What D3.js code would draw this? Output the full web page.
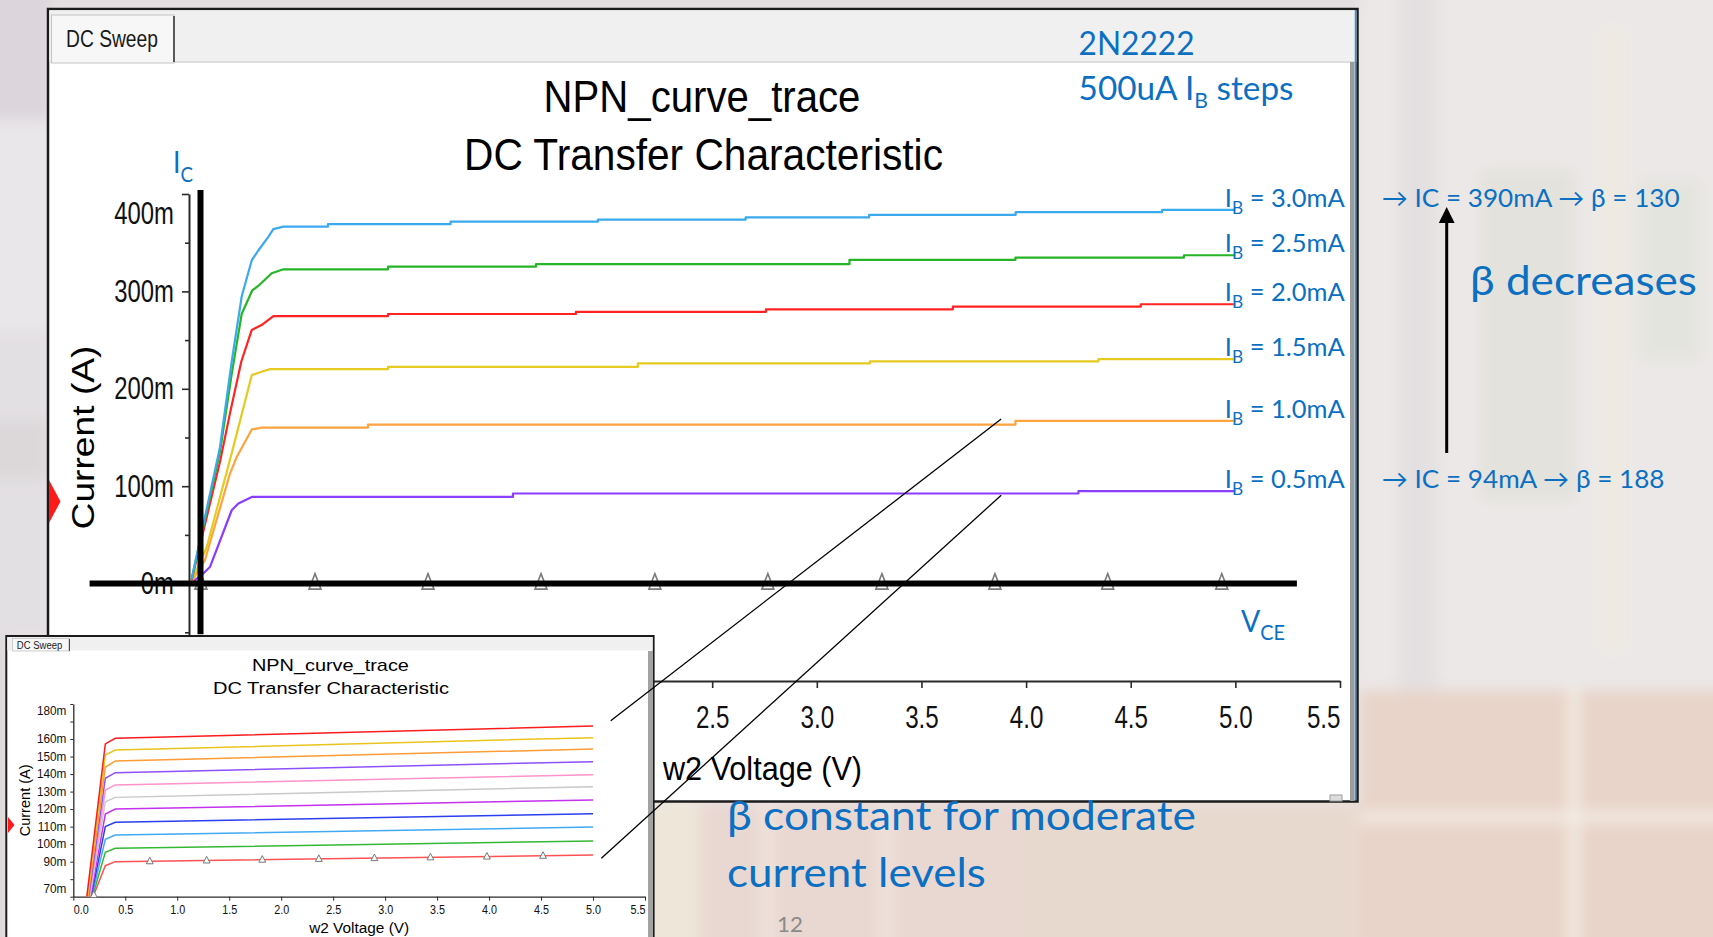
<!DOCTYPE html>
<html>
<head>
<meta charset="utf-8">
<title>NPN curve trace – 2N2222</title>
<script src="https://cdn.jsdelivr.net/npm/d3@7/dist/d3.min.js"></script>
<style>
  html, body { margin: 0; padding: 0; overflow: hidden; background: #e9e4e4; }
  svg { display: block; }
  text { white-space: pre; }
</style>
</head>
<body>
<svg id="slide" width="1713" height="937"></svg>
<script>
// ---------- values ----------
// sweep voltage ticks (V) and collector-current ticks (mA)
const sweepTicks   = [0.0, 0.5, 1.0, 1.5, 2.0, 2.5, 3.0, 3.5, 4.0, 4.5, 5.0, 5.5];
const currentTicks = [-100, 0, 100, 200, 300, 400];
const currentMinor = [-50, 50, 150, 250, 350];

// base-current steps (mA), top trace first
const baseCurrents = ["3.0", "2.5", "2.0", "1.5", "1.0", "0.5"];
const traceColors  = ["#3aa9ee", "#26b526", "#ff2323", "#e5ca1f", "#ffa33f", "#8a3cff"];

// saturation rise of each trace: [VCE (V), IC (mA)]
const rise30 = [[0.013, 5], [0.148, 140], [0.204, 228], [0.252, 295], [0.300, 332], [0.331, 342], [0.379, 356], [0.403, 364], [0.451, 366.5]];
const rise25 = [[0.013, 5], [0.148, 135], [0.204, 215], [0.252, 277], [0.302, 301], [0.331, 305.6], [0.395, 318.6], [0.451, 322.7]];
const rise20 = [[0.013, 4], [0.148, 125], [0.196, 175], [0.250, 228], [0.300, 260.4], [0.347, 265.5], [0.403, 274.7]];
const rise15 = [[0.013, 3], [0.085, 37.6], [0.212, 140.4], [0.300, 214], [0.347, 217.5], [0.387, 220.2]];
const rise10 = [[0.013, 2], [0.076, 24], [0.196, 113], [0.228, 130], [0.300, 158.3], [0.347, 160.1]];
const rise05 = [[0.013, 1], [0.068, 10.3], [0.100, 17], [0.204, 75.3], [0.236, 82.2], [0.300, 89]];

// active region, plotted in steps: [VCE where the level starts (V), IC (mA)]
const flat30 = [[0.451, 366.5], [0.664, 369], [1.250, 371.6], [1.954, 373.7], [2.660, 376], [3.250, 378.5], [3.950, 381.3], [4.650, 383.7], [5.0, 383.7]];
const flat25 = [[0.451, 322.7], [0.951, 325.4], [1.658, 328], [3.156, 332.3], [3.949, 334.6], [4.754, 337.1], [5.0, 337.1]];
const flat20 = [[0.403, 274.7], [0.951, 276.8], [1.849, 279], [2.757, 281.6], [3.650, 284.3], [4.548, 286.8], [5.0, 286.8]];
const flat15 = [[0.387, 220.2], [0.951, 222.6], [2.145, 226.1], [3.254, 228.2], [4.346, 230.5], [5.0, 230.5]];
const flat10 = [[0.347, 160.1], [0.855, 163.2], [3.949, 167.1], [5.0, 167.1]];
const flat05 = [[0.300, 89], [1.548, 92.5], [4.250, 94.9], [5.0, 94.9]];

// IB = 0 trace and its symbol positions (V)
const zeroTrace   = [[0, 0], [5.0, 0]];
const zeroMarkers = [0.057, 0.602, 1.142, 1.682, 2.226, 2.766, 3.311, 3.851, 4.390, 4.935];

// small-signal sweep (inset), bottom trace first
const insetColors = ["#ff5252", "#35b935", "#40aaf2", "#2b3ff0", "#c431ef", "#c9c9c9", "#ff93cb", "#8d50ff", "#ff9c35", "#e8c41e", "#ff1c1c"];
const insetStart  = [0.190, 0.184, 0.178, 0.172, 0.166, 0.160, 0.154, 0.148, 0.142, 0.136, 0.130]; // V at 70 mA
const insetKneeV  = [0.308, 0.404, 5.0];
const insetKneeA  = [87.7, 95.3, 102.8, 110.0, 117.2, 124.2, 130.9, 137.6, 143.9, 150.9, 157.2];
const insetKneeB  = [90.0, 97.6, 105.2, 112.5, 120.0, 126.7, 133.8, 140.8, 147.5, 153.7, 160.4];
const insetEnd    = [93.8, 101.8, 109.8, 117.4, 125.2, 132.8, 139.6, 147.1, 154.3, 160.8, 167.4];
const insetMarkers = [0.197, 0.736, 1.283, 1.818, 2.362, 2.897, 3.436, 3.979, 4.519];
const insetTicks   = [70, 80, 90, 100, 110, 120, 130, 140, 150, 160, 170, 180];
const insetSkipped = [80, 170];

// operating points quoted beside the traces
const icHigh = 390, betaHigh = 130;
const icLow  = 94,  betaLow  = 188;

// guide axes drawn over the plot and the links to the inset: [V, mA]
const guideH = [-0.475, 5.294];   // along IC = 0
const guideV = [0.055, -52, 404]; // at VCE = 0.055 V
const linkTop    = { main: [3.881, 168.9], inset: [5.17, 170.5] };
const linkBottom = { main: [3.881, 90.7],  inset: [5.08, 91.9] };

// ---------- drawing ----------
const CHART = "'Liberation Sans', Arial, Helvetica, sans-serif";
const NOTE  = "Lato, 'Noto Sans', 'DejaVu Sans', sans-serif";
const BLUE  = "#0b6fc2";

const svg = d3.select("#slide");
const defs = svg.append("defs");
defs.append("filter").attr("id", "soft")
  .attr("filterUnits", "userSpaceOnUse")
  .attr("x", -60).attr("y", -60).attr("width", 1833).attr("height", 1057)
  .append("feGaussianBlur").attr("stdDeviation", 7);

// text helper: parts are strings or [string, true] for a subscript; the
// finished text is squeezed horizontally to the requested width
function note(parent, parts, o) {
  const t = parent.append("text")
    .attr("font-family", o.family).attr("font-size", o.size)
    .attr("fill", o.fill || "#000").attr("text-anchor", o.anchor || "start");
  let down = false;
  parts.forEach(p => {
    const [s, sub] = typeof p === "string" ? [p, false] : p;
    const ts = t.append("tspan").text(s);
    if (sub && !down) { ts.attr("font-size", o.subSize).attr("dy", o.subDy); down = true; }
    else if (!sub && down) { ts.attr("dy", -o.subDy); down = false; }
  });
  const w = t.node().getBBox().width;
  const sx = o.width ? o.width / w : (o.sx || 1);
  const rot = o.rotate ? ` rotate(${o.rotate})` : "";
  t.attr("transform", `translate(${o.x},${o.y})${rot} scale(${sx},${o.sy || 1})`);
  return t;
}

// ---- slide backdrop (soft photo texture) ----
const backdrop = svg.append("g").attr("filter", "url(#soft)");
const backdropTiles = [
  [-40, -40, 1800, 1020, "#e9e5e5"],
  [-40, -40, 90, 160, "#dcd5dc"],
  [-40, 120, 90, 210, "#e9e7ea"],
  [-40, 330, 90, 310, "#e3e0e3"],
  [-40, 420, 90, 60, "#dcd8da"],
  [48, -40, 1320, 50, "#e4dde0"],
  [1360, -40, 400, 730, "#ebe8e7"],
  [1398, -40, 40, 730, "#e4e0e1"],
  [1480, 170, 95, 330, "#e3e2dc"],
  [1600, 30, 25, 620, "#eeeae1"],
  [1640, 180, 60, 180, "#e4e4de"],
  [1360, 690, 400, 260, "#e8d4c9"],
  [1360, 812, 400, 10, "#f3ece4"],
  [1569, 690, 10, 260, "#f4ede4"],
  [650, 802, 710, 150, "#eadbd3"],
  [652, 802, 48, 150, "#eee6d8"],
  [700, 802, 320, 150, "#e9d7d2"],
  [760, 802, 14, 150, "#efe3dc"],
  [880, 802, 12, 150, "#efe4dc"],
  [1020, 802, 340, 150, "#e8d9cf"],
  [-40, 636, 46, 320, "#dad7da"]
];
backdrop.selectAll("rect").data(backdropTiles).join("rect")
  .attr("x", d => d[0]).attr("y", d => d[1]).attr("width", d => d[2]).attr("height", d => d[3])
  .attr("fill", d => d[4]);

// ---- main DC sweep window ----
const win = svg.append("g");
win.append("rect").attr("x", 48).attr("y", 9).attr("width", 1309.5).attr("height", 792.5)
  .attr("fill", "#ffffff").attr("stroke", "#1b1b1b").attr("stroke-width", 2.5);
win.append("rect").attr("x", 49.3).attr("y", 10.3).attr("width", 1307).attr("height", 52)
  .attr("fill", "#f0f0f0");
win.append("line").attr("x1", 49).attr("x2", 1356).attr("y1", 62).attr("y2", 62)
  .attr("stroke", "#d6d6d6").attr("stroke-width", 1.5);
win.append("rect").attr("x", 51.5).attr("y", 15).attr("width", 122.5).attr("height", 48)
  .attr("fill", "#f7f7f7").attr("stroke", "#c4c4c4").attr("stroke-width", 1);
win.append("line").attr("x1", 174).attr("x2", 174).attr("y1", 16).attr("y2", 62)
  .attr("stroke", "#4a4a4a").attr("stroke-width", 1.8);
win.append("rect").attr("x", 1350).attr("y", 62).attr("width", 4.5).attr("height", 739)
  .attr("fill", "#9c9c9c");
win.append("line").attr("x1", 1355.5).attr("x2", 1355.5).attr("y1", 10).attr("y2", 800)
  .attr("stroke", "#3b8ee0").attr("stroke-width", 1.5);
win.append("rect").attr("x", 1330).attr("y", 795).attr("width", 12).attr("height", 6)
  .attr("fill", "#dcdcdc").attr("stroke", "#a0a0a0").attr("stroke-width", 1);
win.append("path").attr("d", "M49,480 L60.5,501.5 L49,523 Z").attr("fill", "#ff1a1a");

note(win, ["DC Sweep"], { x: 66, y: 47, size: 24, family: CHART, fill: "#1a1a1a", width: 92 });
note(win, ["NPN_curve_trace"], { x: 702, y: 112, size: 44, family: CHART, anchor: "middle", width: 317 });
note(win, ["DC Transfer Characteristic"], { x: 703.5, y: 170, size: 44, family: CHART, anchor: "middle", width: 479 });

const xMain = d3.scaleLinear().domain([0, 5.5]).range([189, 1340]);
const yMain = d3.scaleLinear().domain([-100, 400]).range([681, 194]);

// y axis
const yAx = win.append("g").attr("transform", `translate(${xMain(0)},0)`)
  .call(d3.axisLeft(yMain).tickValues(currentTicks).tickFormat(d => d + "m")
    .tickSize(7).tickPadding(8).tickSizeOuter(0));
win.append("g").attr("transform", `translate(${xMain(0)},0)`)
  .call(d3.axisLeft(yMain).tickValues(currentMinor).tickFormat("").tickSize(4).tickSizeOuter(0))
  .call(g => g.select(".domain").remove());
yAx.selectAll("text")
  .attr("font-family", CHART).attr("font-size", 31).attr("fill", "#111")
  .attr("x", 0)
  .attr("transform", d => `translate(-15,${d === 400 ? 20 : 0}) scale(0.77,1)`);

// x axis
const xAx = win.append("g").attr("transform", `translate(0,${yMain(-100)})`)
  .call(d3.axisBottom(xMain).tickValues(sweepTicks).tickFormat(d3.format(".1f"))
    .tickSize(7).tickPadding(18).tickSizeOuter(0));
xAx.selectAll("text")
  .attr("font-family", CHART).attr("font-size", 31).attr("fill", "#111")
  .attr("text-anchor", d => d === 5.5 ? "end" : (d === 0 ? "start" : "middle"))
  .attr("transform", "scale(0.78,1)");

win.selectAll(".domain").attr("stroke", "#2a2a2a").attr("stroke-width", 2);
win.selectAll(".tick line").attr("stroke", "#2a2a2a").attr("stroke-width", 1.6);

note(win, ["Current (A)"], { x: 94, y: (yMain.range()[0] + yMain.range()[1]) / 2, size: 31, family: CHART,
  anchor: "middle", rotate: -90, width: 184 });
note(win, ["w2 Voltage (V)"], { x: (xMain.range()[0] + xMain.range()[1]) / 2 - 2, y: 780, size: 33, family: CHART,
  anchor: "middle", width: 200 });

// traces
const lineMain = d3.line().x(d => xMain(d[0])).y(d => yMain(d[1]));
function stairs(flat) {
  const out = [flat[0]];
  for (let i = 1; i < flat.length; i++) { out.push([flat[i][0], flat[i - 1][1]]); out.push(flat[i]); }
  return out;
}
const traces = [[rise30, flat30], [rise25, flat25], [rise20, flat20], [rise15, flat15], [rise10, flat10], [rise05, flat05]];

win.append("path").attr("d", lineMain(zeroTrace)).attr("fill", "none")
  .attr("stroke", "#9a9a9a").attr("stroke-width", 2);

const traceG = win.append("g");
traces.slice().reverse().forEach((tr, k) => {
  const i = traces.length - 1 - k;
  traceG.append("path")
    .attr("d", lineMain(tr[0].concat(stairs(tr[1]))))
    .attr("fill", "none").attr("stroke", traceColors[i]).attr("stroke-width", 2.2)
    .attr("stroke-linejoin", "round");
});

// trace symbols on the IB = 0 trace
win.append("g").selectAll("path").data(zeroMarkers).join("path")
  .attr("transform", d => `translate(${xMain(d)},${yMain(0)})`)
  .attr("d", "M0,-10 L6,5.5 L-6,5.5 Z")
  .attr("fill", "#ffffff").attr("stroke", "#7a7a7a").attr("stroke-width", 1.6);

// heavy guide axes
win.append("line")
  .attr("x1", xMain(guideH[0])).attr("x2", xMain(guideH[1]))
  .attr("y1", yMain(0)).attr("y2", yMain(0))
  .attr("stroke", "#000").attr("stroke-width", 6);
win.append("line")
  .attr("x1", xMain(guideV[0])).attr("x2", xMain(guideV[0]))
  .attr("y1", yMain(guideV[1])).attr("y2", yMain(guideV[2]))
  .attr("stroke", "#000").attr("stroke-width", 6);

// trace labels
const labelG = win.append("g");
const labelY = traces.map(tr => yMain(tr[1][tr[1].length - 1][1]) - 3);
baseCurrents.forEach((ib, i) => {
  note(labelG, ["I", ["B", true], ` = ${ib}mA`], {
    x: xMain(5.0) - 10.5, y: labelY[i], size: 25, subSize: 17, subDy: 6.7,
    family: NOTE, fill: BLUE, width: 120 });
});
note(labelG, ["I", ["C", true]], { x: 173, y: 173.3, size: 30, subSize: 21, subDy: 8.4, family: NOTE, fill: BLUE, width: 20 });
note(labelG, ["V", ["CE", true]], { x: 1241, y: 631.7, size: 30, subSize: 21, subDy: 8.4, family: NOTE, fill: BLUE, width: 44 });

// ---- inset: small-signal sweep window ----
const ins = svg.append("g");
ins.append("rect").attr("x", 6.3).attr("y", 636).attr("width", 647.3).attr("height", 320)
  .attr("fill", "#ffffff").attr("stroke", "#1b1b1b").attr("stroke-width", 2);
ins.append("rect").attr("x", 7.3).attr("y", 637).attr("width", 645.3).attr("height", 13.5)
  .attr("fill", "#f0f0f0");
ins.append("rect").attr("x", 12.6).attr("y", 638.5).attr("width", 56.8).attr("height", 12.5)
  .attr("fill", "#f7f7f7").attr("stroke", "#c4c4c4").attr("stroke-width", 0.8);
ins.append("line").attr("x1", 69.4).attr("x2", 69.4).attr("y1", 639).attr("y2", 651)
  .attr("stroke", "#4a4a4a").attr("stroke-width", 1.2);
ins.append("rect").attr("x", 648).attr("y", 651).attr("width", 4).attr("height", 290).attr("fill", "#a2a2a2");
ins.append("path").attr("d", "M8,817 L14.5,825 L8,833 Z").attr("fill", "#ff1a1a");

note(ins, ["DC Sweep"], { x: 16.8, y: 648.5, size: 11.5, family: CHART, fill: "#1a1a1a", width: 45.5 });
note(ins, ["NPN_curve_trace"], { x: 330.4, y: 670.7, size: 17, family: CHART, anchor: "middle", width: 157 });
note(ins, ["DC Transfer Characteristic"], { x: 331, y: 694, size: 17, family: CHART, anchor: "middle", width: 237 });

const xIn = d3.scaleLinear().domain([0, 5.5]).range([73.3, 645]);
const yIn = d3.scaleLinear().domain([70, 180]).range([896.7, 704]);

const yInAx = ins.append("g").attr("transform", `translate(${xIn(0)},0)`)
  .call(d3.axisLeft(yIn).tickValues(insetTicks)
    .tickFormat(d => insetSkipped.includes(d) ? "" : d + "m").tickSize(3).tickPadding(4).tickSizeOuter(0));
yInAx.selectAll("text")
  .attr("font-family", CHART).attr("font-size", 12).attr("fill", "#111").attr("x", 0)
  .attr("transform", d => `translate(-7,${d === 180 ? 6.7 : (d === 70 ? -8.4 : 0)}) scale(0.98,1)`);

const xInAx = ins.append("g").attr("transform", `translate(0,${yIn(70)})`)
  .call(d3.axisBottom(xIn).tickValues(sweepTicks).tickFormat(d3.format(".1f"))
    .tickSize(4).tickPadding(4.5).tickSizeOuter(0));
xInAx.selectAll("text")
  .attr("font-family", CHART).attr("font-size", 13).attr("fill", "#111")
  .attr("text-anchor", d => d === 5.5 ? "end" : (d === 0 ? "start" : "middle"))
  .attr("transform", "scale(0.83,1)");
ins.selectAll(".domain").attr("stroke", "#2a2a2a").attr("stroke-width", 1.3);
ins.selectAll(".tick line").attr("stroke", "#2a2a2a").attr("stroke-width", 1);

note(ins, ["Current (A)"], { x: 30, y: (yIn.range()[0] + yIn.range()[1]) / 2, size: 14.5, family: CHART,
  anchor: "middle", rotate: -90, width: 72 });
note(ins, ["w2 Voltage (V)"], { x: (xIn.range()[0] + xIn.range()[1]) / 2, y: 932.5, size: 15.5, family: CHART,
  anchor: "middle", width: 101 });

defs.append("clipPath").attr("id", "insetPlot").append("rect")
  .attr("x", xIn(0)).attr("y", yIn(180)).attr("width", xIn(5.5) - xIn(0)).attr("height", yIn(70) - yIn(180));

const lineIn = d3.line().x(d => xIn(d[0])).y(d => yIn(d[1]));
const insetSeries = insetColors.map((c, i) => [
  [insetStart[i], 70],
  [insetKneeV[0], insetKneeA[i]],
  [insetKneeV[1], insetKneeB[i]],
  [insetKneeV[2], insetEnd[i]]
]);
ins.append("g").attr("clip-path", "url(#insetPlot)")
  .selectAll("path").data(insetSeries).join("path")
  .attr("d", lineIn).attr("fill", "none")
  .attr("stroke", (d, i) => insetColors[i]).attr("stroke-width", 1.5);

// symbols on the lowest inset trace
const lowest = insetSeries[0];
function valueAt(series, v) {
  for (let i = 1; i < series.length; i++) {
    const [v0, a0] = series[i - 1], [v1, a1] = series[i];
    if (v <= v1) return a0 + (a1 - a0) * (v - v0) / (v1 - v0);
  }
  return series[series.length - 1][1];
}
ins.append("g").selectAll("path").data(insetMarkers).join("path")
  .attr("transform", d => `translate(${xIn(d)},${yIn(valueAt(lowest, d))})`)
  .attr("d", "M0,-4 L3.4,2.6 L-3.4,2.6 Z")
  .attr("fill", "#ffffff").attr("stroke", "#777").attr("stroke-width", 1);

// ---- links from the main sweep to the inset ----
[linkTop, linkBottom].forEach(l => {
  svg.append("line")
    .attr("x1", xMain(l.main[0])).attr("y1", yMain(l.main[1]))
    .attr("x2", xIn(l.inset[0])).attr("y2", yIn(l.inset[1]))
    .attr("stroke", "#000").attr("stroke-width", 1.3);
});

// ---- slide notes ----
const notes = svg.append("g");
note(notes, ["2N2222"], { x: 1078.6, y: 55, size: 33, family: NOTE, fill: BLUE, width: 116 });
note(notes, ["500uA I", ["B", true], " steps"], { x: 1078.6, y: 100, size: 33, subSize: 21, subDy: 8,
  family: NOTE, fill: BLUE, width: 215 });

note(notes, [`\u2192 IC = ${icHigh}mA \u2192 \u03B2 = ${betaHigh}`], { x: 1381.7, y: labelY[0], size: 25,
  family: NOTE, fill: BLUE, width: 298 });
note(notes, [`\u2192 IC = ${icLow}mA \u2192 \u03B2 = ${betaLow}`], { x: 1381.7, y: labelY[5], size: 25,
  family: NOTE, fill: BLUE, width: 283 });
note(notes, ["\u03B2 decreases"], { x: 1470, y: 295, size: 41, family: NOTE, fill: BLUE, width: 227 });
note(notes, ["\u03B2 constant for moderate"], { x: 727, y: 830, size: 41, family: NOTE, fill: BLUE, width: 469 });
note(notes, ["current levels"], { x: 727, y: 886.7, size: 41, family: NOTE, fill: BLUE, width: 259 });
note(notes, ["12"], { x: 777, y: 931.5, size: 21, family: NOTE, fill: "#8a8a8a", width: 26 });

// arrow: beta falls as IC rises
notes.append("line").attr("x1", 1446.7).attr("x2", 1446.7).attr("y1", 453).attr("y2", 220)
  .attr("stroke", "#000").attr("stroke-width", 3);
notes.append("path").attr("d", "M1446.7,207 L1438.8,223 L1454.6,223 Z").attr("fill", "#000");
</script>
</body>
</html>
